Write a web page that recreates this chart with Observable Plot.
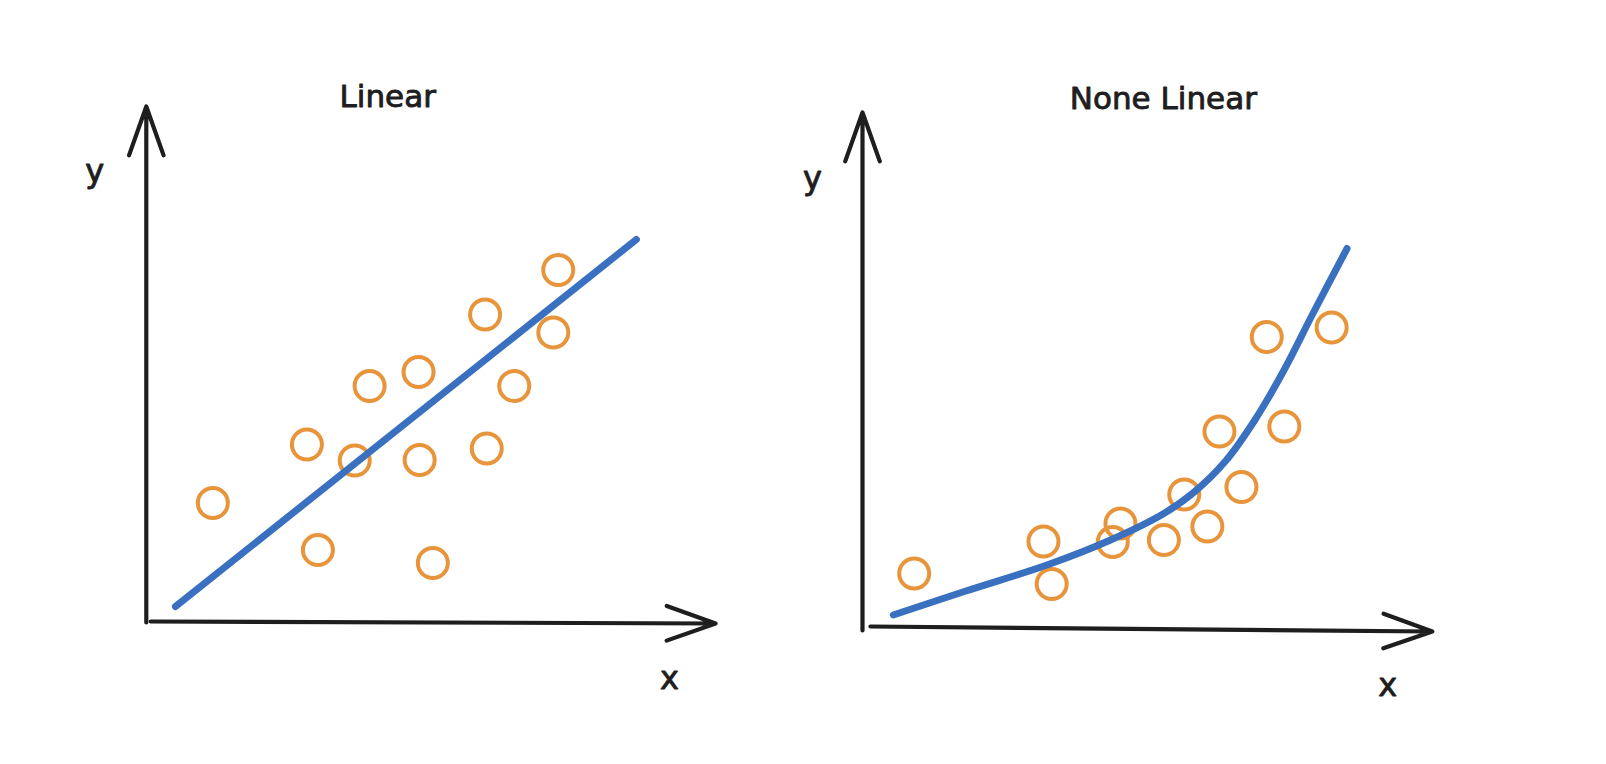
<!DOCTYPE html>
<html>
<head>
<meta charset="utf-8">
<script src="https://cdn.jsdelivr.net/npm/d3@7"></script>
<script src="https://cdn.jsdelivr.net/npm/@observablehq/plot@0.6"></script>
<style>
  html, body { margin: 0; padding: 0; background: #ffffff; }
  #wrap { display: flex; width: 1606px; height: 764px; }
  #wrap svg { display: block; overflow: visible; }
</style>
</head>
<body>
<div id="wrap"></div>
<script>
// ---- Panel titles and axis labels ----
const titles = ["Linear", "None Linear"];
const axisLabels = ["x", "y"];

// ---- Linear panel: scattered points (x, y in arbitrary units) ----
const linearX = [11.7, 28.8, 30.8, 37.5, 40.2, 49.1, 49.3, 51.7, 61.2, 61.5, 66.5, 73.6, 74.5];
const linearY = [23.7, 35.4, 14.3, 32.2, 47.1, 49.9, 32.3, 11.7, 61.4, 34.6, 47.1, 57.8, 70.3];
// Linear fit line (start, end)
const linearFitX = [4.9, 88.7];
const linearFitY = [3.0, 76.4];

// ---- Non-linear panel: scattered points ----
const curveX = [9.4, 32.9, 34.4, 46.9, 45.5, 54.8, 58.5, 62.7, 68.9, 64.9, 76.7, 73.5, 85.3];
const curveY = [11.0, 17.4, 8.9, 21.0, 17.3, 17.7, 26.8, 20.4, 28.3, 39.4, 40.4, 58.3, 60.2];
// Non-linear fit curve
const curveFitX = [5.6, 18.8, 33.8, 45.1, 54.8, 60.1, 66.1, 71.4, 76.6, 81.9, 88.1];
const curveFitY = [2.7, 7.5, 12.8, 17.7, 23.0, 27.1, 33.6, 41.8, 51.6, 63.0, 76.0];

const INK = "#1e1e1e";
const ORANGE = "#e8943a";
const BLUE = "#3a70c0";
const FONT = "DejaVu Sans, sans-serif";

function zip(xs, ys) { return xs.map((x, i) => ({x, y: ys[i]})); }

function panel({title, pts, fit, curve, margins, axes, titlePos, labelPos}) {
  const textStyle = {fill: INK, stroke: INK, strokeWidth: 0.9, fontFamily: FONT,
    textAnchor: "middle", lineAnchor: "middle"};
  return Plot.plot({
    width: 803,
    height: 764,
    ...margins,
    x: {domain: [0, 100], axis: null},
    y: {domain: [0, 100], axis: null},
    style: {background: "transparent", overflow: "visible", fontFamily: FONT},
    marks: [
      // y axis arrow
      Plot.arrow([axes.y], {x1: "x1", y1: "y1", x2: "x2", y2: "y2",
        stroke: INK, strokeWidth: 4.2, headLength: 18.5, headAngle: 39,
        strokeLinecap: "round", strokeLinejoin: "round"}),
      // x axis arrow
      Plot.arrow([axes.x], {x1: "x1", y1: "y1", x2: "x2", y2: "y2",
        stroke: INK, strokeWidth: 4.2, headLength: 18.5, headAngle: 39,
        strokeLinecap: "round", strokeLinejoin: "round"}),
      // scatter circles
      Plot.dot(pts, {x: "x", y: "y", r: 15, stroke: ORANGE, strokeWidth: 4, fill: "none"}),
      // fit
      Plot.line(fit, {x: "x", y: "y", stroke: BLUE, strokeWidth: 7,
        strokeLinecap: "round", strokeLinejoin: "round", curve}),
      // title
      Plot.text([title], {x: titlePos[0], y: titlePos[1], text: d => d,
        fontSize: 31, letterSpacing: 3, ...textStyle}),
      // axis labels
      Plot.text([axisLabels[1]], {x: labelPos.y[0], y: labelPos.y[1], text: d => d,
        fontSize: 32, ...textStyle}),
      Plot.text([axisLabels[0]], {x: labelPos.x[0], y: labelPos.x[1], text: d => d,
        fontSize: 32, ...textStyle})
    ]
  });
}

const left = panel({
  title: titles[0],
  pts: zip(linearX, linearY),
  fit: zip(linearFitX, linearFitY),
  curve: "linear",
  margins: {marginLeft: 148, marginRight: 105, marginTop: 121, marginBottom: 143},
  axes: {
    y: {x1: -0.4, y1: -0.2, x2: -0.4, y2: 103},
    x: {x1: 0.4, y1: 0, x2: 103.1, y2: -0.4}
  },
  titlePos: [43.5, 104.8],
  labelPos: {y: [-9.8, 90.0], x: [94.7, -11.4]}
});

const right = panel({
  title: titles[1],
  pts: zip(curveX, curveY),
  fit: zip(curveFitX, curveFitY),
  curve: "catmull-rom",
  margins: {marginLeft: 59, marginRight: 194, marginTop: 128, marginBottom: 136},
  axes: {
    y: {x1: 0, y1: -0.4, x2: 0, y2: 103.2},
    x: {x1: 1.45, y1: 0.4, x2: 103.6, y2: -0.6}
  },
  titlePos: [54.7, 105.8],
  labelPos: {y: [-9.1, 90.0], x: [95.5, -11.4]}
});

document.getElementById("wrap").append(left, right);
</script>
</body>
</html>
